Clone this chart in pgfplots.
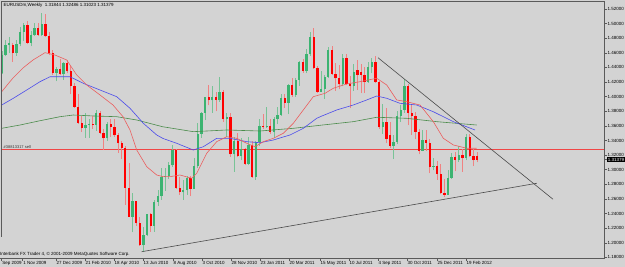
\documentclass[border=0pt]{standalone}
\usepackage{fontspec}
\setmainfont{Liberation Sans}
\usepackage{pgfplots}
\pgfplotsset{compat=1.18}
\usepackage{pgfplotstable}
\definecolor{bgcol}{RGB}{211,211,211}
\definecolor{cgreen}{RGB}{60,179,113}
\definecolor{cred}{RGB}{255,0,0}
\definecolor{ordred}{RGB}{240,70,70}
\definecolor{wickg}{RGB}{120,195,150}
\definecolor{wickr}{RGB}{240,130,130}
\definecolor{maRed}{RGB}{235,95,95}
\definecolor{maBlue}{RGB}{75,75,235}
\definecolor{maGreen}{RGB}{75,140,75}
\definecolor{trend}{RGB}{75,75,75}
\definecolor{frame}{RGB}{90,90,90}

\pgfplotstableread{
k O H L C
-16 1.4330 1.4620 1.4310 1.4570
-15 1.4570 1.4770 1.4550 1.4710
-14 1.4705 1.4820 1.4600 1.4730
-12 1.4595 1.4770 1.4560 1.4720
-11 1.4720 1.4960 1.4690 1.4890
-10 1.4890 1.5010 1.4760 1.4985
-8 1.4740 1.4900 1.4690 1.4850
-7 1.4850 1.5010 1.4830 1.4935
-5 1.4850 1.5140 1.4830 1.4990
-1 1.4330 1.4410 1.4210 1.4385
1 1.4310 1.4480 1.4235 1.4455
7 1.3570 1.3775 1.3440 1.3615
8 1.3615 1.3700 1.3435 1.3630
10 1.3610 1.3820 1.3530 1.3770
13 1.3430 1.3660 1.3400 1.3630
20 1.2360 1.2675 1.2143 1.2570
23 1.1965 1.2210 1.1876 1.2110
24 1.2110 1.2390 1.2100 1.2390
26 1.2235 1.2590 1.2150 1.2565
27 1.2565 1.2720 1.2510 1.2640
28 1.2640 1.3025 1.2590 1.2900
29 1.2900 1.3030 1.2710 1.2910
30 1.2910 1.3110 1.2870 1.3060
31 1.3060 1.3335 1.3040 1.3270
34 1.2690 1.2860 1.2590 1.2720
35 1.2720 1.2920 1.2660 1.2890
37 1.2740 1.3160 1.2740 1.3050
38 1.3050 1.3640 1.3030 1.3490
39 1.3490 1.3785 1.3440 1.3780
40 1.3780 1.4000 1.3680 1.3990
42 1.3950 1.4150 1.3780 1.3990
44 1.3960 1.4275 1.3930 1.4060
46 1.3690 1.3780 1.3450 1.3720
48 1.3210 1.3450 1.2970 1.3390
50 1.3190 1.3430 1.3130 1.3280
52 1.3080 1.3450 1.3060 1.3340
54 1.2900 1.3395 1.2861 1.3380
55 1.3380 1.3690 1.3330 1.3600
57 1.3580 1.3860 1.3570 1.3600
59 1.3510 1.3720 1.3430 1.3700
60 1.3700 1.3860 1.3620 1.3750
61 1.3750 1.4030 1.3740 1.3980
63 1.3920 1.4170 1.3760 1.4160
65 1.4020 1.4250 1.4000 1.4230
66 1.4230 1.4490 1.4150 1.4470
68 1.4350 1.4650 1.4320 1.4580
69 1.4580 1.4880 1.4560 1.4820
72 1.4070 1.4350 1.4060 1.4110
73 1.4110 1.4300 1.3970 1.4270
74 1.4270 1.4680 1.4260 1.4640
78 1.4170 1.4580 1.4140 1.4530
81 1.4140 1.4450 1.4080 1.4340
85 1.4200 1.4480 1.4190 1.4400
86 1.4400 1.4530 1.4320 1.4480
89 1.3580 1.3900 1.3490 1.3650
92 1.3330 1.3480 1.3145 1.3380
93 1.3380 1.3800 1.3350 1.3730
94 1.3730 1.3890 1.3650 1.3820
95 1.3820 1.4248 1.3780 1.4140
100 1.3260 1.3550 1.3250 1.3410
103 1.3040 1.3160 1.2990 1.3055
107 1.2660 1.3000 1.2660 1.2890
108 1.2890 1.3230 1.2880 1.3180
110 1.3140 1.3320 1.3110 1.3200
112 1.3160 1.3490 1.3130 1.3450
}\bull

\pgfplotstableread{
k O H L C
-13 1.4710 1.4730 1.4480 1.4595
-9 1.4985 1.5030 1.4720 1.4740
-6 1.4935 1.5010 1.4830 1.4850
-4 1.4990 1.5135 1.4810 1.4825
-3 1.4825 1.4880 1.4570 1.4600
-2 1.4600 1.4640 1.4300 1.4330
0 1.4385 1.4510 1.4290 1.4310
2 1.4455 1.4500 1.4320 1.4345
3 1.4345 1.4420 1.4030 1.4140
4 1.4140 1.4190 1.3850 1.3865
5 1.3865 1.4040 1.3630 1.3640
6 1.3640 1.3730 1.3520 1.3570
9 1.3630 1.3740 1.3560 1.3610
11 1.3770 1.3810 1.3490 1.3505
12 1.3505 1.3560 1.3270 1.3430
14 1.3630 1.3690 1.3450 1.3590
15 1.3590 1.3690 1.3450 1.3470
16 1.3470 1.3500 1.3230 1.3360
17 1.3360 1.3390 1.3150 1.3295
18 1.3295 1.3330 1.2520 1.2755
19 1.2755 1.3095 1.2355 1.2360
21 1.2570 1.2570 1.2235 1.2270
22 1.2270 1.2350 1.1960 1.1965
25 1.2390 1.2410 1.2150 1.2235
32 1.3270 1.3290 1.2740 1.2750
33 1.2750 1.2900 1.2660 1.2690
36 1.2890 1.2920 1.2640 1.2740
41 1.3990 1.4160 1.3880 1.3950
43 1.3990 1.4060 1.3800 1.3960
45 1.4060 1.4090 1.3660 1.3690
47 1.3720 1.3780 1.3180 1.3210
49 1.3390 1.3500 1.3170 1.3190
51 1.3280 1.3300 1.3060 1.3080
53 1.3340 1.3400 1.2890 1.2900
56 1.3600 1.3760 1.3560 1.3580
58 1.3600 1.3690 1.3490 1.3510
62 1.3980 1.4035 1.3850 1.3920
64 1.4160 1.4250 1.4000 1.4020
67 1.4470 1.4520 1.4330 1.4350
70 1.4820 1.4940 1.4380 1.4390
71 1.4390 1.4420 1.4050 1.4070
75 1.4640 1.4700 1.4300 1.4310
76 1.4310 1.4460 1.4080 1.4250
77 1.4250 1.4440 1.4100 1.4170
79 1.4530 1.4580 1.4160 1.4180
80 1.4180 1.4280 1.3840 1.4140
82 1.4360 1.4500 1.4090 1.4300
83 1.4340 1.4450 1.4050 1.4300
84 1.4300 1.4400 1.4050 1.4200
87 1.4480 1.4550 1.4190 1.4200
88 1.4200 1.4220 1.3560 1.3580
90 1.3650 1.3840 1.3360 1.3420
91 1.3480 1.3650 1.3300 1.3330
96 1.4140 1.4180 1.3610 1.3780
97 1.3780 1.3880 1.3480 1.3740
98 1.3740 1.3790 1.3420 1.3520
99 1.3520 1.3560 1.3210 1.3260
101 1.3410 1.3550 1.3250 1.3370
102 1.3370 1.3420 1.2950 1.3040
104 1.3050 1.3120 1.2860 1.2940
105 1.2940 1.3080 1.2670 1.2680
106 1.2680 1.2880 1.2624 1.2660
109 1.3180 1.3240 1.2980 1.3140
111 1.3200 1.3290 1.2970 1.3160
113 1.3450 1.3490 1.3170 1.3190
114 1.3190 1.3290 1.3050 1.3130
115 1.31844 1.32486 1.31023 1.31379
}\bear

\pgfplotstableread{
k p
-16.138 1.3280
150.02 1.3280
}\orderline

\newcommand{\tinyf}{\fontsize{4.5}{5}\selectfont}

\begin{document}
\begin{tikzpicture}
\fill[bgcol] (0,0) rectangle (625pt,267pt);
\begin{axis}[
  at={(1.5pt,8.5pt)}, anchor=south west,
  scale only axis, width=602.5pt, height=257pt,
  xmin=-16.138, xmax=150.02, ymin=1.17853, ymax=1.53026,
  axis line style={draw=none},
  xtick={-16.08,-10.29,-1.11,6.89,14.89,22.89,31.16,39.16,47.15,55.15,63.15,71.70,79.70,87.70,95.69,103.97,111.97},
  xticklabels={Sep 2009, 1 Nov 2009, 27 Dec 2009, 21 Feb 2010, 18 Apr 2010, 13 Jun 2010, 8 Aug 2010, 3 Oct 2010, 28 Nov 2010, 23 Jan 2011, 20 Mar 2011, 15 May 2011, 10 Jul 2011, 4 Sep 2011, 30 Oct 2011, 25 Dec 2011, 19 Feb 2012},
  xtick pos=left, ytick pos=right, yticklabel pos=right,
  tick align=outside, major tick length=2.5pt,
  tick style={draw=frame, line width=0.5pt},
  xticklabel style={anchor=north west, font=\tinyf, inner sep=0.5pt, yshift=0pt},
  ytick={1.18,1.20,1.22,1.24,1.26,1.28,1.30,1.32,1.34,1.36,1.38,1.40,1.42,1.44,1.46,1.48,1.50,1.52},
  yticklabel style={anchor=west, font=\tinyf, inner sep=0.5pt, xshift=0.5pt,
    /pgf/number format/fixed, /pgf/number format/fixed zerofill, /pgf/number format/precision=5},
  /pgf/number format/assume math mode=true,
  scaled y ticks=false,
  extra y ticks={1.31379},
  extra y tick style={grid=none, yticklabel style={fill=black, text=white, inner sep=0.6pt}},
]
% order level line (solid thin red)
\addplot[forget plot, draw=ordred, line width=0.5pt, mark=none] table[x=k, y=p] {\orderline};
% wicks
\addplot[forget plot, draw=wickg, line width=0.8pt, quiver={u=0, v=\thisrow{H}-\thisrow{L}}]
  table[x=k, y=L] {\bull};
\addplot[forget plot, draw=wickr, line width=0.8pt, quiver={u=0, v=\thisrow{H}-\thisrow{L}}]
  table[x=k, y=L] {\bear};
% bodies
\addplot[forget plot, draw=cgreen, line width=2.3pt, quiver={u=0, v=\thisrow{C}-\thisrow{O}}]
  table[x=k, y=O] {\bull};
\addplot[forget plot, draw=cred, line width=2.3pt, quiver={u=0, v=\thisrow{O}-\thisrow{C}}]
  table[x=k, y=C] {\bear};
% moving averages
\addplot[draw=maGreen, line width=0.6pt, mark=none] coordinates {(-16.08,1.3567) (-11.04,1.3612) (-5.52,1.3671) (0.00,1.3726) (3.66,1.3749) (9.18,1.3736) (15.63,1.3726) (21.15,1.3681) (28.26,1.3589) (36.76,1.3521) (45.97,1.3544) (55.15,1.3530) (64.34,1.3567) (72.39,1.3612) (80.88,1.3658) (87.34,1.3718) (95.61,1.3704) (103.88,1.3658) (114.92,1.3612)};
\addplot[draw=maBlue, line width=0.6pt, mark=none] coordinates {(-16.08,1.3886) (-12.88,1.3978) (-9.19,1.4091) (-5.52,1.4205) (-2.76,1.4273) (2.75,1.4273) (6.42,1.4183) (11.03,1.4091) (15.63,1.4000) (19.30,1.3841) (22.97,1.3636) (26.66,1.3476) (28.40,1.3428) (32.18,1.3362) (36.76,1.3270) (39.52,1.3315) (43.21,1.3430) (46.88,1.3430) (51.49,1.3384) (55.15,1.3370) (58.82,1.3407) (63.43,1.3476) (67.10,1.3567) (70.79,1.3704) (72.25,1.3736) (76.31,1.3818) (80.88,1.3886) (84.58,1.3955) (87.34,1.4009) (90.10,1.3978) (93.76,1.3909) (98.37,1.3886) (102.95,1.3794) (108.47,1.3658) (114.45,1.3544)};
\addplot[draw=maRed, line width=0.6pt, mark=none] coordinates {(-16.08,1.4068) (-12.97,1.4256) (-10.21,1.4393) (-7.45,1.4502) (-4.14,1.4602) (-1.38,1.4570) (1.84,1.4502) (4.60,1.4297) (7.36,1.4160) (11.03,1.4023) (14.61,1.3886) (17.37,1.3726) (19.30,1.3544) (21.15,1.3270) (23.91,1.3042) (26.66,1.2928) (28.48,1.2905) (30.33,1.2905) (33.09,1.2928) (36.32,1.2883) (37.69,1.2951) (40.45,1.3225) (43.21,1.3384) (45.97,1.3452) (48.73,1.3430) (51.49,1.3362) (53.77,1.3315) (56.06,1.3384) (58.82,1.3430) (61.58,1.3499) (64.34,1.3636) (67.10,1.3818) (69.85,1.4000) (73.08,1.4046) (75.37,1.4115) (79.06,1.4174) (82.73,1.4205) (87.34,1.4252) (90.10,1.4160) (92.85,1.3955) (95.61,1.3931) (99.28,1.3886) (102.95,1.3658) (105.71,1.3430) (108.47,1.3339) (112.16,1.3294) (114.92,1.3294)};
% trend lines
\addplot[draw=trend, line width=0.6pt, mark=none] coordinates {(87.7,1.4533) (135.96,1.2596)};
\addplot[draw=trend, line width=0.6pt, mark=none] coordinates {(22.5,1.1878) (131.5,1.2815)};
\end{axis}
% chart frame
\draw[frame, line width=0.6pt] (1.5pt,265.5pt) -- (604pt,265.5pt) -- (604pt,8.5pt) -- (0pt,8.5pt);
\draw[frame, line width=0.6pt] (1.5pt,265.5pt) -- (1.5pt,30pt);
% texts
\node[anchor=west, inner sep=0pt, font=\tinyf] at (3.5pt,262pt) {EURUSDm,Weekly\ \ 1.31844 1.32486 1.31023 1.31379};
\node[anchor=west, inner sep=0pt, font=\fontsize{4}{4.5}\selectfont, text=black!80] at (3.5pt,119.7pt) {\#38813317 sell};
\node[anchor=west, inner sep=0pt, font=\tinyf] at (0pt,12.5pt) {Interbank FX Trader 4, © 2001-2009 MetaQuotes Software Corp.};
\pgfresetboundingbox
\path[use as bounding box] (0,0) rectangle (625pt,267pt);
\end{tikzpicture}
\end{document}
